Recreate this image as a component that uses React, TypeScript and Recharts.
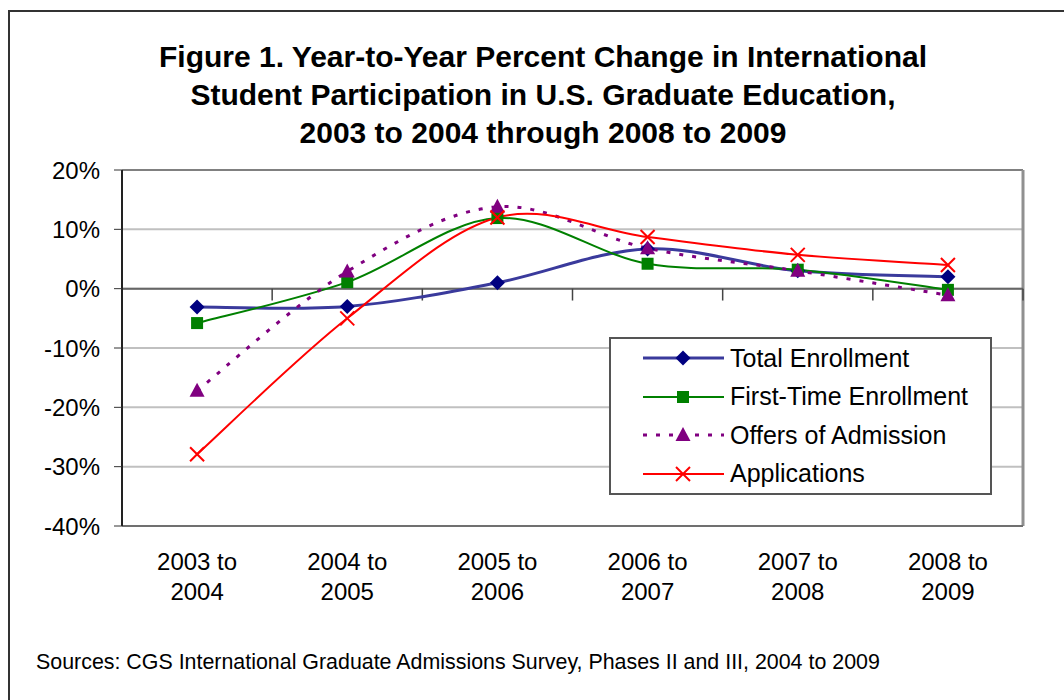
import * as React from "react"
import {
  LineChart,
  Line,
  XAxis,
  YAxis,
  CartesianGrid,
  ReferenceLine,
} from "recharts"

const categories = [
  "2003 to 2004",
  "2004 to 2005",
  "2005 to 2006",
  "2006 to 2007",
  "2007 to 2008",
  "2008 to 2009",
]

const totalEnrollment = [-3.1, -3.0, 1.0, 6.7, 3.0, 2.0]
const firstTimeEnrollment = [-5.8, 1.1, 11.9, 4.2, 3.2, -0.2]
const offersOfAdmission = [-17.2, 2.9, 13.8, 6.8, 3.0, -1.1]
const applications = [-27.9, -5.0, 12.0, 8.7, 5.7, 4.0]

const yTicks = [-40, -30, -20, -10, 0, 10, 20]
const boundaries = [1, 2, 3, 4, 5, 6]

// one row per category, x sits in the middle of each band
const rows = categories.map((c, i) => ({
  x: i + 0.5,
  label: c,
  total: totalEnrollment[i],
  firstTime: firstTimeEnrollment[i],
  offers: offersOfAdmission[i],
  applications: applications[i],
}))

const FONT = '"Liberation Sans", Arial, sans-serif'

// Bezier smoothing like the spreadsheet "smoothed line" option
const smoothCurve = (context: any) => {
  let pts: number[][] = []
  return {
    areaStart() {},
    areaEnd() {},
    lineStart() {
      pts = []
    },
    point(x: number, y: number) {
      pts.push([+x, +y])
    },
    lineEnd() {
      if (!pts.length) return
      context.moveTo(pts[0][0], pts[0][1])
      for (let i = 0; i < pts.length - 1; i++) {
        const p0 = pts[Math.max(i - 1, 0)]
        const p1 = pts[i]
        const p2 = pts[i + 1]
        const p3 = pts[Math.min(i + 2, pts.length - 1)]
        context.bezierCurveTo(
          p1[0] + (p2[0] - p0[0]) / 6,
          p1[1] + (p2[1] - p0[1]) / 6,
          p2[0] - (p3[0] - p1[0]) / 6,
          p2[1] - (p3[1] - p1[1]) / 6,
          p2[0],
          p2[1]
        )
      }
    },
  }
}

type MarkProps = { cx: number; cy: number; color: string }

const Diamond = ({ cx, cy, color }: MarkProps) => (
  <path d={`M${cx} ${cy - 7.5}L${cx + 7.5} ${cy}L${cx} ${cy + 7.5}L${cx - 7.5} ${cy}Z`} fill={color} />
)
const Square = ({ cx, cy, color }: MarkProps) => (
  <rect x={cx - 6} y={cy - 6} width={12} height={12} fill={color} />
)
const Triangle = ({ cx, cy, color }: MarkProps) => (
  <path d={`M${cx} ${cy - 8}L${cx + 7.5} ${cy + 6}L${cx - 7.5} ${cy + 6}Z`} fill={color} />
)
const Cross = ({ cx, cy, color }: MarkProps) => (
  <g stroke={color} strokeWidth={2}>
    <line x1={cx - 7} y1={cy - 7} x2={cx + 7} y2={cy + 7} />
    <line x1={cx - 7} y1={cy + 7} x2={cx + 7} y2={cy - 7} />
  </g>
)

const series = [
  { key: "total", name: "Total Enrollment", color: "#3a3a9c", mark: "#000080", Marker: Diamond, width: 3, dash: undefined },
  { key: "firstTime", name: "First-Time Enrollment", color: "#008000", mark: "#008000", Marker: Square, width: 2, dash: undefined },
  { key: "offers", name: "Offers of Admission", color: "#800080", mark: "#800080", Marker: Triangle, width: 3, dash: "4 9" },
  { key: "applications", name: "Applications", color: "#ff0000", mark: "#ff0000", Marker: Cross, width: 2, dash: undefined },
]

const CategoryTick = ({ x, y, payload }: any) => {
  const text = categories[Math.floor(payload.value)] || ""
  const cut = text.lastIndexOf(" ")
  return (
    <text x={x} y={y} textAnchor="middle" fill="#000" fontSize={24} fontFamily={FONT}>
      <tspan x={x} dy={44}>{text.slice(0, cut)}</tspan>
      <tspan x={x} dy={30}>{text.slice(cut + 1)}</tspan>
    </text>
  )
}

const LegendBox = () => (
  <div
    style={{
      position: "absolute",
      left: 609,
      top: 337,
      width: 383,
      height: 158,
      border: "2px solid #555",
      boxSizing: "border-box",
      background: "#fff",
      fontFamily: FONT,
    }}
  >
    {series.map((s, i) => (
      <div
        key={s.key}
        style={{ position: "absolute", left: 0, top: 1 + i * 38.5, height: 36, display: "flex", alignItems: "center" }}
      >
        <svg width={119} height={36}>
          <line x1={32} x2={113} y1={18} y2={18} stroke={s.color} strokeWidth={s.width} strokeDasharray={s.dash} />
          <s.Marker cx={72} cy={18} color={s.mark} />
        </svg>
        <span style={{ fontSize: 25, color: "#000", whiteSpace: "nowrap" }}>{s.name}</span>
      </div>
    ))}
  </div>
)

export default function App() {
  return (
    <div
      style={{
        position: "absolute",
        left: 0,
        top: 0,
        width: 1064,
        height: 700,
        overflow: "hidden",
        background: "#fff",
        fontFamily: FONT,
      }}
    >
      {/* outer frame, runs off the right and bottom edges */}
      <div
        style={{
          position: "absolute",
          left: 8,
          top: 10,
          width: 1100,
          height: 720,
          borderTop: "2px solid #333",
          borderLeft: "2px solid #333",
        }}
      />
      <div
        style={{
          position: "absolute",
          left: 0,
          top: 38,
          width: 1086,
          textAlign: "center",
          fontWeight: "bold",
          fontSize: 30,
          lineHeight: "38px",
          color: "#000",
        }}
      >
        Figure 1. Year-to-Year Percent Change in International
        <br />
        Student Participation in U.S. Graduate Education,
        <br />
        2003 to 2004 through 2008 to 2009
      </div>
      <div style={{ position: "absolute", left: 0, top: 0 }}>
        <LineChart
          width={1064}
          height={700}
          data={rows}
          margin={{ top: 170, right: 41, bottom: 0, left: 52 }}
        >
          <CartesianGrid vertical={false} stroke="#c0c0c0" strokeWidth={2} />
          <XAxis
            dataKey="x"
            type="number"
            domain={[0, 6]}
            ticks={[0.5, 1.5, 2.5, 3.5, 4.5, 5.5]}
            tick={<CategoryTick />}
            tickLine={false}
            tickSize={0}
            tickMargin={0}
            axisLine={{ stroke: "#707070", strokeWidth: 2 }}
            height={174}
            interval={0}
          />
          <YAxis
            type="number"
            domain={[-40, 20]}
            ticks={yTicks}
            tickFormatter={(v: number) => `${v}%`}
            tick={{ fill: "#000", fontSize: 24, fontFamily: FONT }}
            tickSize={8}
            tickMargin={14}
            tickLine={{ stroke: "#333" }}
            axisLine={{ stroke: "#222", strokeWidth: 2 }}
            width={70}
            interval={0}
          />
          <ReferenceLine y={20} stroke="#808080" strokeWidth={2} />
          <ReferenceLine x={6} stroke="#909090" strokeWidth={3} />
          <ReferenceLine y={0} stroke="#666" strokeWidth={2} />
          {boundaries.map((b) => (
            <ReferenceLine
              key={b}
              segment={[
                { x: b, y: 0 },
                { x: b, y: -2 },
              ]}
              stroke="#444"
              strokeWidth={1.5}
            />
          ))}
          {series.map((s) => (
            <Line
              key={s.key}
              dataKey={s.key}
              name={s.name}
              type={smoothCurve as any}
              stroke={s.color}
              strokeWidth={s.width}
              strokeDasharray={s.dash}
              isAnimationActive={false}
              activeDot={false}
              dot={(p: any) => <s.Marker key={`${s.key}-${p.index}`} cx={p.cx} cy={p.cy} color={s.mark} />}
            />
          ))}
        </LineChart>
      </div>
      <LegendBox />
      <div
        style={{
          position: "absolute",
          left: 36,
          top: 650,
          fontSize: 21.4,
          lineHeight: "24px",
          color: "#000",
          whiteSpace: "nowrap",
        }}
      >
        Sources: CGS International Graduate Admissions Survey, Phases II and III, 2004 to 2009
      </div>
    </div>
  )
}
